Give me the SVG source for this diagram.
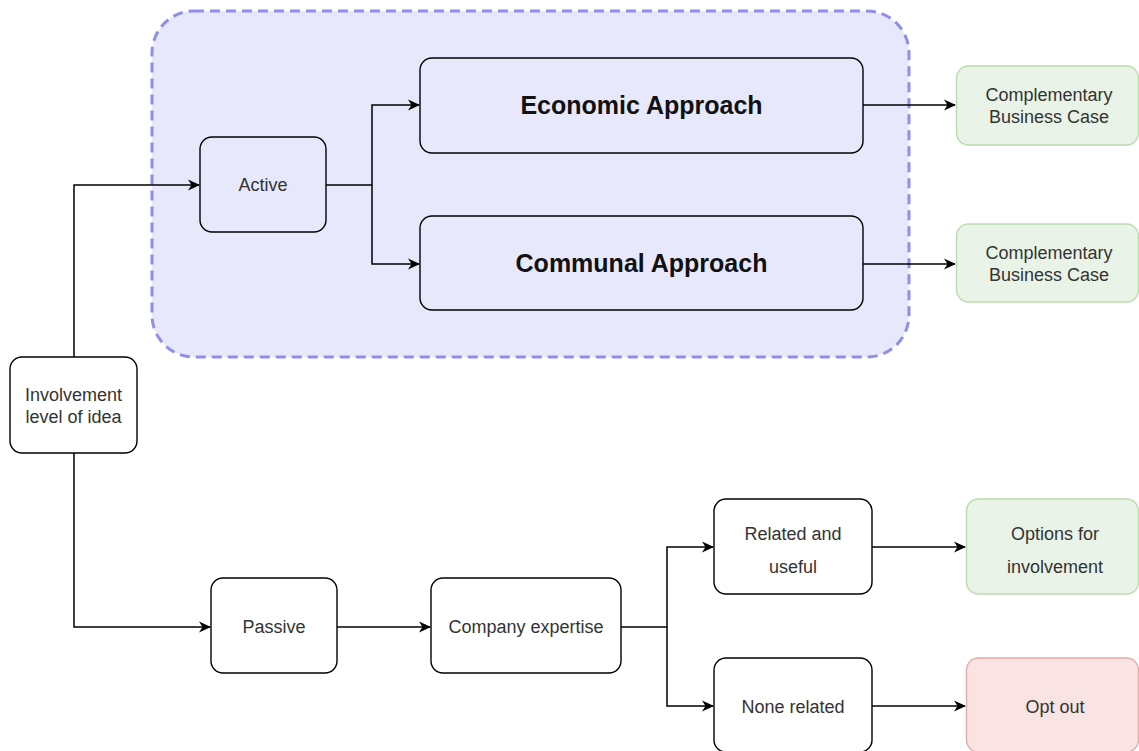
<svg xmlns="http://www.w3.org/2000/svg" width="1139" height="751" viewBox="0 0 1139 751">
  <style>
    .box { fill: #ffffff; stroke: #000000; stroke-width: 1.4; }
    .inner { fill: #e8e8fc; stroke: #000000; stroke-width: 1.4; }
    .good { fill: #e9f3e7; stroke: #bcdcae; stroke-width: 1.4; }
    .bad { fill: #fae3e3; stroke: #e6abab; stroke-width: 1.4; }
    .lbl { font-family: "Liberation Sans", Arial, sans-serif; font-size: 18px; fill: #333333; text-anchor: middle; }
    .big { font-family: "Liberation Sans", Arial, sans-serif; font-size: 25px; font-weight: bold; fill: #111111; text-anchor: middle; }
    .edge { fill: none; stroke: #000000; stroke-width: 1.5; }
  </style>
  <defs>
    <marker id="arrow" viewBox="0 0 12 12" refX="11" refY="6" markerWidth="12" markerHeight="12" markerUnits="userSpaceOnUse" orient="auto">
      <path d="M0,0.5 L12,6 L0,11.5 L3.5,6 Z" fill="#000000"/>
    </marker>
  </defs>

  <rect width="1139" height="751" fill="#ffffff"/>

  <!-- active-involvement container -->
  <g id="active-group">
    <rect x="152" y="11" width="757" height="346" rx="42" ry="42" fill="#e8e8fc" stroke="#8f8fe8" stroke-width="3" stroke-dasharray="10 6"/>
  </g>

  <!-- connectors -->
  <g id="connectors">
    <path class="edge" d="M74,357 L74,185 L199,185" marker-end="url(#arrow)"/>
    <path class="edge" d="M74,453 L74,627 L210,627" marker-end="url(#arrow)"/>
    <path class="edge" d="M326,185 L372,185 L372,105 L419,105" marker-end="url(#arrow)"/>
    <path class="edge" d="M372,185 L372,264 L419,264" marker-end="url(#arrow)"/>
    <path class="edge" d="M863,105 L955,105" marker-end="url(#arrow)"/>
    <path class="edge" d="M863,264 L955,264" marker-end="url(#arrow)"/>
    <path class="edge" d="M337,627 L430,627" marker-end="url(#arrow)"/>
    <path class="edge" d="M621,627 L667,627 L667,547 L713,547" marker-end="url(#arrow)"/>
    <path class="edge" d="M667,627 L667,706 L713,706" marker-end="url(#arrow)"/>
    <path class="edge" d="M872,547 L965,547" marker-end="url(#arrow)"/>
    <path class="edge" d="M872,706 L965,706" marker-end="url(#arrow)"/>
  </g>

  <g id="involvement">
    <rect class="box" x="10" y="357" width="127" height="96" rx="12"/>
    <text class="lbl" x="73.5" y="401">Involvement</text>
    <text class="lbl" x="73.5" y="423">level of idea</text>
  </g>

  <g id="active">
    <rect class="inner" x="200" y="137" width="126" height="95" rx="12"/>
    <text class="lbl" x="263" y="191">Active</text>
  </g>

  <g id="economic">
    <rect class="inner" x="420" y="58" width="443" height="95" rx="12"/>
    <text class="big" x="641.5" y="114">Economic Approach</text>
  </g>

  <g id="communal">
    <rect class="inner" x="420" y="216" width="443" height="94" rx="12"/>
    <text class="big" x="641.5" y="272">Communal Approach</text>
  </g>

  <g id="business-case-1">
    <rect class="good" x="956.5" y="66" width="182" height="79" rx="12"/>
    <text class="lbl" x="1049" y="101">Complementary</text>
    <text class="lbl" x="1049" y="123">Business Case</text>
  </g>

  <g id="business-case-2">
    <rect class="good" x="956.5" y="224" width="182" height="78" rx="12"/>
    <text class="lbl" x="1049" y="259">Complementary</text>
    <text class="lbl" x="1049" y="281">Business Case</text>
  </g>

  <g id="passive">
    <rect class="box" x="211" y="578" width="126" height="95" rx="12"/>
    <text class="lbl" x="274" y="633">Passive</text>
  </g>

  <g id="company-expertise">
    <rect class="box" x="431" y="578" width="190" height="95" rx="12"/>
    <text class="lbl" x="526" y="633">Company expertise</text>
  </g>

  <g id="related">
    <rect class="box" x="714" y="499" width="158" height="95" rx="12"/>
    <text class="lbl" x="793" y="540">Related and</text>
    <text class="lbl" x="793" y="573">useful</text>
  </g>

  <g id="none-related">
    <rect class="box" x="714" y="658" width="158" height="94" rx="12"/>
    <text class="lbl" x="793" y="713">None related</text>
  </g>

  <g id="options">
    <rect class="good" x="966.5" y="499" width="172" height="95" rx="12"/>
    <text class="lbl" x="1055" y="540">Options for</text>
    <text class="lbl" x="1055" y="573">involvement</text>
  </g>

  <g id="opt-out">
    <rect class="bad" x="966.5" y="658" width="172" height="94" rx="12"/>
    <text class="lbl" x="1055" y="713">Opt out</text>
  </g>
</svg>
